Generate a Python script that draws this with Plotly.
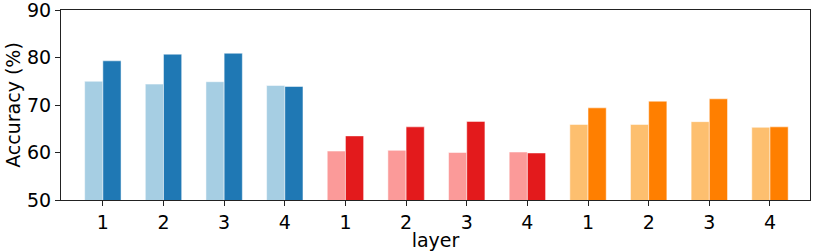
import plotly.graph_objects as go

layers = ["1", "2", "3", "4", "1", "2", "3", "4", "1", "2", "3", "4"]
light_vals = [75.0, 74.4, 74.9, 74.1, 60.3, 60.45, 60.0, 60.1, 65.9, 65.9, 66.5, 65.3]
dark_vals = [79.3, 80.7, 80.9, 73.9, 63.5, 65.4, 66.55, 59.9, 69.4, 70.8, 71.3, 65.4]
light_colors = ["#a6cee3"] * 4 + ["#fb9a99"] * 4 + ["#fdbf6f"] * 4
dark_colors = ["#1f78b4"] * 4 + ["#e31a1c"] * 4 + ["#ff7f00"] * 4
yticks = [50, 60, 70, 80, 90]

x = list(range(len(layers)))

fig = go.Figure()
fig.add_trace(go.Bar(x=x, y=light_vals, marker=dict(color=light_colors, line=dict(color="white", width=0.5)),
                     showlegend=False))
fig.add_trace(go.Bar(x=x, y=dark_vals, marker=dict(color=dark_colors, line=dict(color="white", width=0.5)),
                     showlegend=False))

font = dict(family="DejaVu Sans", size=19, color="black")
fig.update_layout(
    width=814, height=251,
    margin=dict(l=61, r=4, t=10, b=51, autoexpand=False),
    barmode="group", bargap=0.4, bargroupgap=0,
    plot_bgcolor="white", paper_bgcolor="white",
    font=font,
    xaxis=dict(
        range=[-0.69, 11.66], tickvals=x, ticktext=layers, automargin=False,
        showline=True, linecolor="#222", linewidth=1.2, mirror=True,
        ticks="outside", ticklen=5, tickcolor="#222", showgrid=False, zeroline=False,
        title=dict(text="layer", font=font, standoff=0),
        tickfont=font, ticklabeloverflow="allow",
    ),
    yaxis=dict(
        range=[50, 90], tickvals=yticks, automargin=False,
        showline=True, linecolor="#222", linewidth=1.2, mirror=True,
        ticks="outside", ticklen=5, tickcolor="#222", showgrid=False, zeroline=False,
        title=dict(text="Accuracy (%)", font=font, standoff=1),
        tickfont=font, ticklabeloverflow="allow",
    ),
)

fig.write_html("out.html", config={"displayModeBar": False},
               post_script="document.body.style.margin='0px';document.body.style.overflow='hidden';")
